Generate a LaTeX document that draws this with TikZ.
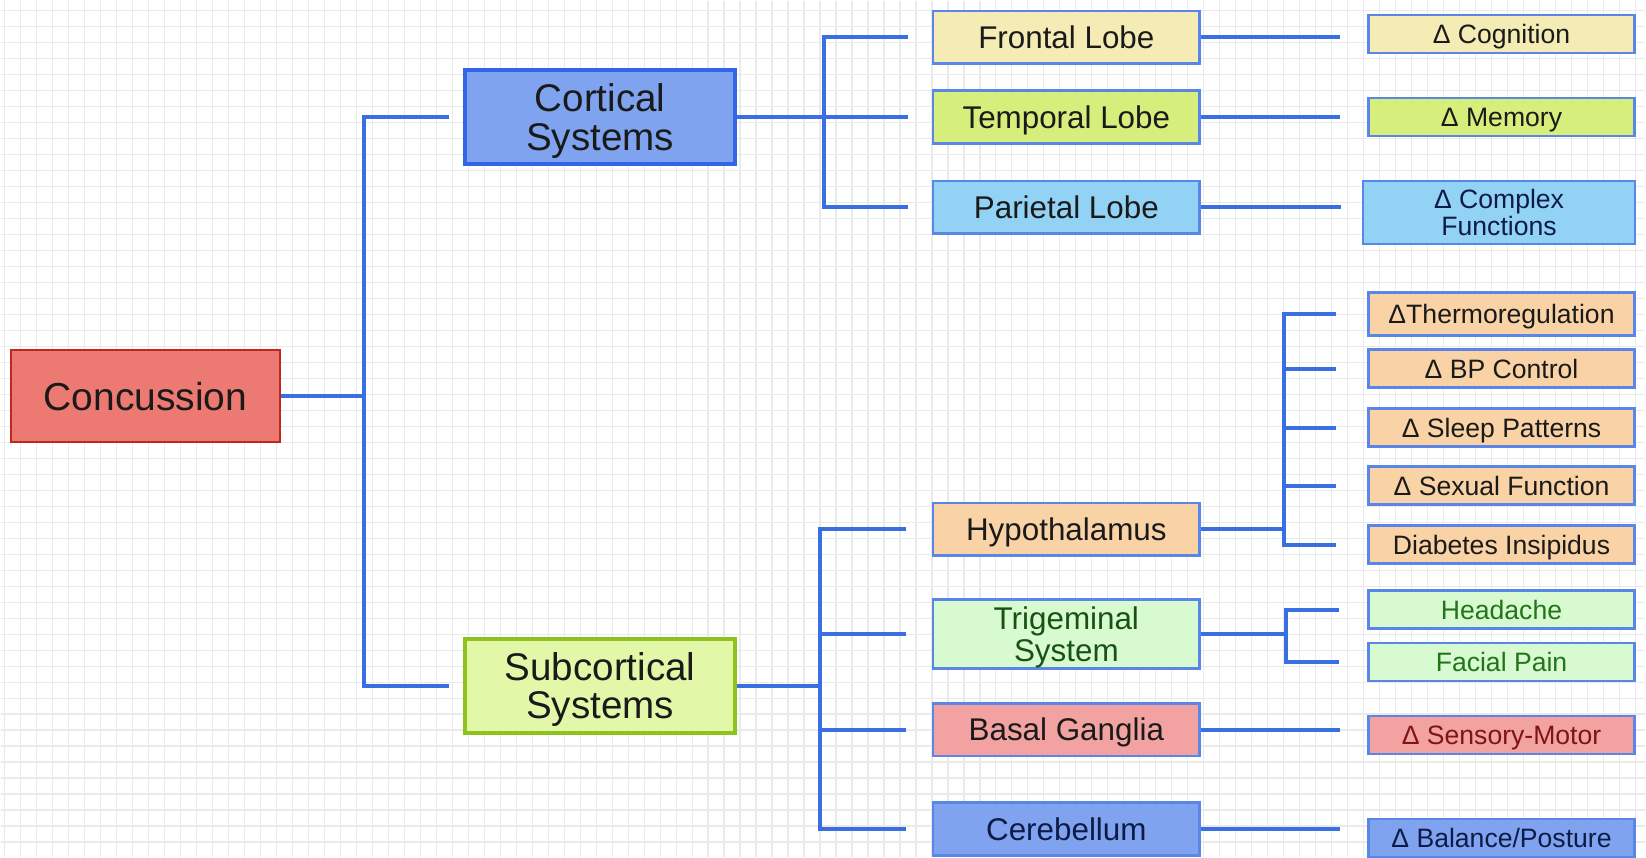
\documentclass[tikz,border=0pt]{standalone}
\usepackage{fontspec}
\setmainfont{Liberation Sans}
\usepackage{xcolor}
\usetikzlibrary{positioning}

\definecolor{linkblue}{HTML}{3A6EE3}
\definecolor{rootline}{HTML}{C0281E}
\definecolor{rootfill}{HTML}{EC7A72}
\definecolor{cortline}{HTML}{3366E6}
\definecolor{cortfill}{HTML}{7FA3EE}
\definecolor{subcline}{HTML}{8DC21F}
\definecolor{subcfill}{HTML}{E2F7A8}
\definecolor{partline}{HTML}{5A86E8}
\definecolor{frontfill}{HTML}{F4ECB4}
\definecolor{tempfill}{HTML}{D6EF7C}
\definecolor{parfill}{HTML}{92D2F5}
\definecolor{hypofill}{HTML}{F9D3A5}
\definecolor{trigfill}{HTML}{D7FAD0}
\definecolor{basalfill}{HTML}{F2A3A1}
\definecolor{textdark}{HTML}{1A1A1A}
\definecolor{textgreen}{HTML}{23751A}
\definecolor{textred}{HTML}{7E1414}
\definecolor{textnavy}{HTML}{0E1B48}
\definecolor{gridgray}{HTML}{EAEAEA}

\begin{document}
\begin{tikzpicture}[x=0.5pt, y=-0.5pt,
gridline/.style={draw=gridgray, line width=0.6pt},
link/.style={draw=linkblue, line width=2pt},
rootbox/.style={draw=rootline, fill=rootfill, line width=1pt,
minimum width=134.5pt, minimum height=46pt, text=textdark, text depth=0pt,
font=\fontsize{19.5}{22}\selectfont},
sysbox/.style={draw, line width=2pt, minimum width=135pt,
minimum height=47pt, align=center, text=textdark, text depth=0pt,
font=\fontsize{19.3}{19.4}\selectfont},
partbox/.style={draw=partline, line width=1.3pt, minimum width=133.5pt,
minimum height=26.25pt, align=center, text=textdark, inner sep=2pt,
text depth=0pt, font=\fontsize{15.7}{16.3}\selectfont},
effbox/.style={draw=partline, line width=1.3pt, minimum width=133pt,
minimum height=19pt, align=center, text=textdark, inner sep=2pt,
text depth=0pt, font=\fontsize{13.3}{13.1}\selectfont}
]

% background with grid
\fill[white] (0,0) rectangle (1646,857);
\foreach \gx in {4,20,...,1646}
  \draw[gridline] (\gx,0) -- (\gx,857);
\foreach \gy in {10,26,...,857}
  \draw[gridline] (0,\gy) -- (1646,\gy);
\useasboundingbox (0,0) rectangle (1646,857);

% root and systems
\node[rootbox] (conc) at (145,396) {Concussion};
\node[sysbox, draw=cortline, fill=cortfill] (cort) at (600,116.5) {Cortical\\Systems};
\node[sysbox, draw=subcline, fill=subcfill] (subc) at (600,685.5) {Subcortical\\Systems};

% brain parts
\node[partbox, fill=frontfill] (front) at (1066.5,36.7) {Frontal Lobe};
\node[partbox, fill=tempfill] (temp) at (1066.5,116.5) {Temporal Lobe};
\node[partbox, fill=parfill] (par) at (1066.5,206.8) {Parietal Lobe};
\node[partbox, fill=hypofill] (hypo) at (1066.5,529) {Hypothalamus};
\node[partbox, fill=trigfill, minimum height=34.5pt, text=textgreen!70!black] (trig) at (1066.5,634) {Trigeminal\\System};
\node[partbox, fill=basalfill] (basal) at (1066.5,729.5) {Basal Ganglia};
\node[partbox, fill=cortfill, text=textnavy] (cereb) at (1066.5,829) {Cerebellum};

% effects
\node[effbox, fill=frontfill] (cogn) at (1502,33.6) {Δ Cognition};
\node[effbox, fill=tempfill] (memo) at (1502,116.5) {Δ Memory};
\node[effbox, fill=parfill, minimum width=136pt, minimum height=31.5pt, text=textnavy] (compl) at (1499.5,212) {Δ Complex\\Functions};
\node[effbox, fill=hypofill, minimum height=21.5pt] (thermo) at (1502,313.4) {ΔThermoregulation};
\node[effbox, fill=hypofill] (bp) at (1502,368.3) {Δ BP Control};
\node[effbox, fill=hypofill] (sleep) at (1502,427.3) {Δ Sleep Patterns};
\node[effbox, fill=hypofill] (sex) at (1502,485.5) {Δ Sexual Function};
\node[effbox, fill=hypofill] (diab) at (1502,544.5) {Diabetes Insipidus};
\node[effbox, fill=trigfill, text=textgreen] (head) at (1502,609.5) {Headache};
\node[effbox, fill=trigfill, text=textgreen] (face) at (1502,662) {Facial Pain};
\node[effbox, fill=basalfill, text=textred] (sens) at (1502,735) {Δ Sensory-Motor};
\node[effbox, fill=cortfill, text=textnavy] (bal) at (1502,838) {Δ Balance/Posture};

% junctions
\coordinate (jroot) at (364,396);
\coordinate (jcort) at (824,116.5);
\coordinate (jsubc) at (820,685.5);
\coordinate (jhypo) at (1284,529);
\coordinate (jtrig) at (1286,634);

% connectors
\draw[link, shorten >=7pt] (conc.east) -- (jroot) |- (cort.west);
\draw[link, shorten >=7pt] (conc.east) -- (jroot) |- (subc.west);

\foreach \part in {front,temp,par}
  \draw[link, shorten >=12pt] (cort.east) -- (jcort) |- (\part.west);
\foreach \part in {hypo,trig,basal,cereb}
  \draw[link, shorten >=13pt] (subc.east) -- (jsubc) |- (\part.west);

\draw[link, shorten >=13.5pt] (front.east) -- (front.east -| cogn.west);
\draw[link, shorten >=13.5pt] (temp.east) -- (temp.east -| memo.west);
\draw[link, shorten >=10.5pt] (par.east) -- (par.east -| compl.west);
\foreach \eff in {thermo,bp,sleep,sex,diab}
  \draw[link, shorten >=15.5pt] (hypo.east) -- (jhypo) |- (\eff.west);
\foreach \eff in {head,face}
  \draw[link, shorten >=14pt] (trig.east) -- (jtrig) |- (\eff.west);
\draw[link, shorten >=13.5pt] (basal.east) -- (basal.east -| sens.west);
\draw[link, shorten >=13.5pt] (cereb.east) -- (cereb.east -| bal.west);

\end{tikzpicture}
\end{document}
